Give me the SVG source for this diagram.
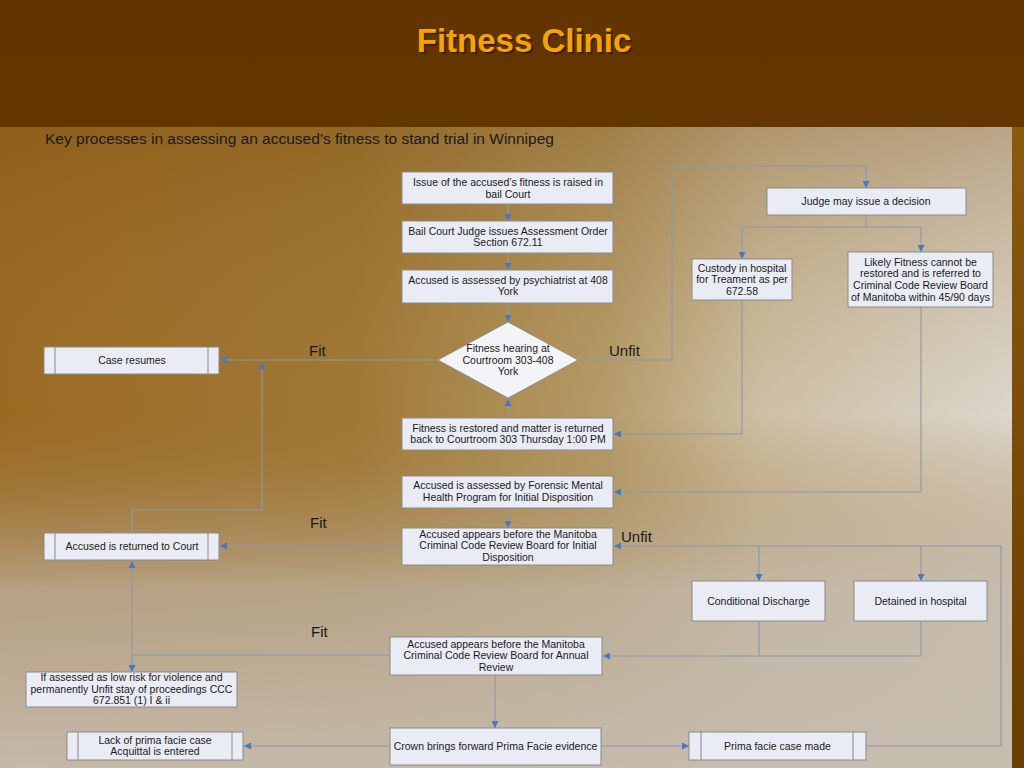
<svg xmlns="http://www.w3.org/2000/svg" width="1024" height="768" viewBox="0 0 1024 768">
<defs>
<linearGradient id="topg" x1="0" y1="0" x2="0" y2="1"><stop offset="0" stop-color="#613400"/><stop offset="1" stop-color="#6e4300"/></linearGradient>
<linearGradient id="photoH" gradientUnits="userSpaceOnUse" x1="0" y1="0" x2="1012" y2="0"><stop offset="0" stop-color="#9a6a22"/><stop offset="0.35" stop-color="#a07836"/><stop offset="0.6" stop-color="#b59c6a"/><stop offset="0.75" stop-color="#cdbfa4"/><stop offset="1" stop-color="#dcd6cc"/></linearGradient>
<linearGradient id="photoV" gradientUnits="userSpaceOnUse" x1="0" y1="127" x2="0" y2="768"><stop offset="0" stop-color="#7a4a08" stop-opacity="0.35"/><stop offset="0.45" stop-color="#a07838" stop-opacity="0"/><stop offset="0.72" stop-color="#bfb3a3" stop-opacity="0.75"/><stop offset="1" stop-color="#c6bcae" stop-opacity="0.95"/></linearGradient>
<linearGradient id="rightg" x1="0" y1="0" x2="0" y2="1"><stop offset="0" stop-color="#8a5a10"/><stop offset="1" stop-color="#6a3c00"/></linearGradient>
<marker id="ah" markerUnits="userSpaceOnUse" markerWidth="7" markerHeight="7" viewBox="0 0 7 7" refX="7" refY="3.5" orient="auto"><path d="M0,0 L7,3.5 L0,7 z" fill="#4a78c0"/></marker>
</defs>
<style>
.box{fill:#e9ecf5;stroke:#8a8a8a;stroke-width:1}
.inner{stroke:#8a8a8a;stroke-width:1}
.t{font-family:"Liberation Sans",Arial,sans-serif;font-size:10.5px;fill:#1a1a1a;text-anchor:middle}
.lbl{font-family:"Liberation Sans",Arial,sans-serif;font-size:15px;fill:#1a1a1a}
.c{fill:none;stroke:#8a98b0;stroke-width:1.1}
.a{marker-end:url(#ah)}
</style>
<rect x="0" y="0" width="1024" height="768" fill="url(#topg)"/>
<rect x="0" y="127" width="1012" height="641" fill="url(#photoH)"/>
<rect x="0" y="127" width="1012" height="641" fill="url(#photoV)"/>
<rect x="1012" y="127" width="12" height="641" fill="url(#rightg)"/>
<text x="526" y="54" font-family="Liberation Sans,Arial,sans-serif" font-size="33" font-weight="bold" fill="#2a1400" fill-opacity="0.6" text-anchor="middle">Fitness Clinic</text>
<text x="524" y="52" font-family="Liberation Sans,Arial,sans-serif" font-size="33" font-weight="bold" fill="#f5a300" text-anchor="middle">Fitness Clinic</text>
<text x="45" y="144" font-family="Liberation Sans,Arial,sans-serif" font-size="15.5" fill="#1a1a1a">Key processes in assessing an accused’s fitness to stand trial in Winnipeg</text>

<g id="connectors">
<path class="c a" d="M508,204 V221"/>
<path class="c a" d="M508,253 V270"/>
<path class="c a" d="M508,303 V322"/>
<path class="c a" d="M508,418 V399"/>
<path class="c a" d="M438,360 H220"/>
<path class="c a" d="M132,533 V510 H262 V362"/>
<path class="c a" d="M578,360 H672 V166 H866 V188"/>
<path class="c" d="M866,215 V227 M742,227 H921"/>
<path class="c a" d="M742,227 V259"/>
<path class="c a" d="M921,227 V252"/>
<path class="c a" d="M742,300 V434 H614"/>
<path class="c a" d="M921,307 V492 H614"/>
<path class="c a" d="M508,508 V528"/>
<path class="c a" d="M402,546 H220"/>
<path class="c a" d="M866,746 H1001 V546 H614"/>
<path class="c a" d="M759,546 V581"/>
<path class="c a" d="M921,546 V581"/>
<path class="c a" d="M759,621 V656 H603"/>
<path class="c" d="M921,621 V656 H759"/>
<path class="c a" d="M132,620 V561"/>
<path class="c a" d="M132,620 V672"/>
<path class="c" d="M132,655 H390"/>
<path class="c a" d="M495,675 V728"/>
<path class="c a" d="M390,746 H244"/>
<path class="c a" d="M601,746 H689"/>
</g>

<g id="n1"><rect class="box" x="402" y="172" width="211" height="32"/><text class="t"><tspan x="508" y="186">Issue of the accused’s fitness is raised in</tspan><tspan x="508" y="197.5">bail Court</tspan></text></g>
<g id="n2"><rect class="box" x="402" y="221" width="211" height="32"/><text class="t"><tspan x="508" y="234.5">Bail Court Judge issues Assessment Order</tspan><tspan x="508" y="246">Section 672.11</tspan></text></g>
<g id="n3"><rect class="box" x="402" y="270" width="211" height="33"/><text class="t"><tspan x="508" y="283.5">Accused is assessed by psychiatrist at 408</tspan><tspan x="508" y="295">York</tspan></text></g>
<g id="n4"><polygon points="508,322 578,360 508,398 438,360" fill="#f3f4f8" stroke="#8a8a8a" stroke-width="0.8"/><text class="t"><tspan x="508" y="351.5">Fitness hearing at</tspan><tspan x="508" y="364">Courtroom 303-408</tspan><tspan x="508" y="375">York</tspan></text></g>
<g id="n5"><rect class="box" x="402" y="418" width="211" height="32"/><text class="t"><tspan x="508" y="431.5">Fitness is restored and matter is returned</tspan><tspan x="508" y="443">back to Courtroom 303 Thursday 1:00 PM</tspan></text></g>
<g id="n6"><rect class="box" x="402" y="476" width="211" height="32"/><text class="t"><tspan x="508" y="489">Accused is assessed by Forensic Mental</tspan><tspan x="508" y="500.5">Health Program  for Initial Disposition</tspan></text></g>
<g id="n7"><rect class="box" x="402" y="528" width="211" height="37"/><text class="t"><tspan x="508" y="537.5">Accused appears before the Manitoba</tspan><tspan x="508" y="549">Criminal Code Review Board for Initial</tspan><tspan x="508" y="560.5">Disposition</tspan></text></g>
<g id="n8"><rect class="box" x="44" y="347" width="175" height="27"/><line class="inner" x1="55" y1="347" x2="55" y2="374"/><line class="inner" x1="208" y1="347" x2="208" y2="374"/><text class="t" x="132" y="363.5">Case resumes</text></g>
<g id="n9"><rect class="box" x="44" y="533" width="175" height="27"/><line class="inner" x1="55" y1="533" x2="55" y2="560"/><line class="inner" x1="208" y1="533" x2="208" y2="560"/><text class="t" x="132" y="549.5">Accused is returned to Court</text></g>
<g id="n10"><rect class="box" x="767" y="188" width="199" height="27"/><text class="t" x="866" y="205">Judge may issue a decision</text></g>
<g id="n11"><rect class="box" x="692" y="259" width="100" height="41"/><text class="t"><tspan x="742" y="271.5">Custody in hospital</tspan><tspan x="742" y="283">for Treament as per</tspan><tspan x="742" y="294.5">672.58</tspan></text></g>
<g id="n12"><rect class="box" x="848" y="252" width="145" height="55"/><text class="t"><tspan x="920.5" y="265.5">Likely  Fitness cannot be</tspan><tspan x="920.5" y="277">restored and is referred to</tspan><tspan x="920.5" y="288.5">Criminal Code Review Board</tspan><tspan x="920.5" y="300.5">of Manitoba within 45/90 days</tspan></text></g>
<g id="n13"><rect class="box" x="692" y="581" width="133" height="40"/><text class="t" x="758.5" y="604.5">Conditional Discharge</text></g>
<g id="n14"><rect class="box" x="854" y="581" width="133" height="40"/><text class="t" x="920.5" y="604.5">Detained in hospital</text></g>
<g id="n15"><rect class="box" x="390" y="637" width="212" height="38"/><text class="t"><tspan x="496" y="647.5">Accused appears before the Manitoba</tspan><tspan x="496" y="659">Criminal Code Review Board for Annual</tspan><tspan x="496" y="671">Review</tspan></text></g>
<g id="n16"><rect class="box" x="26" y="672" width="211" height="35"/><text class="t"><tspan x="131.5" y="680.5">If assessed as low risk for violence and</tspan><tspan x="131.5" y="692.5">permanently Unfit stay of proceedings CCC</tspan><tspan x="131.5" y="704">672.851 (1) I &amp; ii</tspan></text></g>
<g id="n17"><rect class="box" x="67" y="732" width="176" height="28"/><line class="inner" x1="78" y1="732" x2="78" y2="760"/><line class="inner" x1="232" y1="732" x2="232" y2="760"/><text class="t"><tspan x="155" y="743.5">Lack of prima facie case</tspan><tspan x="155" y="755">Acquittal is entered</tspan></text></g>
<g id="n18"><rect class="box" x="390" y="728" width="211" height="37"/><text class="t" x="495.5" y="749.5">Crown brings forward Prima Facie evidence</text></g>
<g id="n19"><rect class="box" x="689" y="732" width="177" height="28"/><line class="inner" x1="701" y1="732" x2="701" y2="760"/><line class="inner" x1="853" y1="732" x2="853" y2="760"/><text class="t" x="777.5" y="749.5">Prima facie case made</text></g>

<g id="labels">
<text class="lbl" x="309" y="356">Fit</text>
<text class="lbl" x="609" y="356">Unfit</text>
<text class="lbl" x="310" y="528">Fit</text>
<text class="lbl" x="621" y="542">Unfit</text>
<text class="lbl" x="311" y="637">Fit</text>
</g>
</svg>
